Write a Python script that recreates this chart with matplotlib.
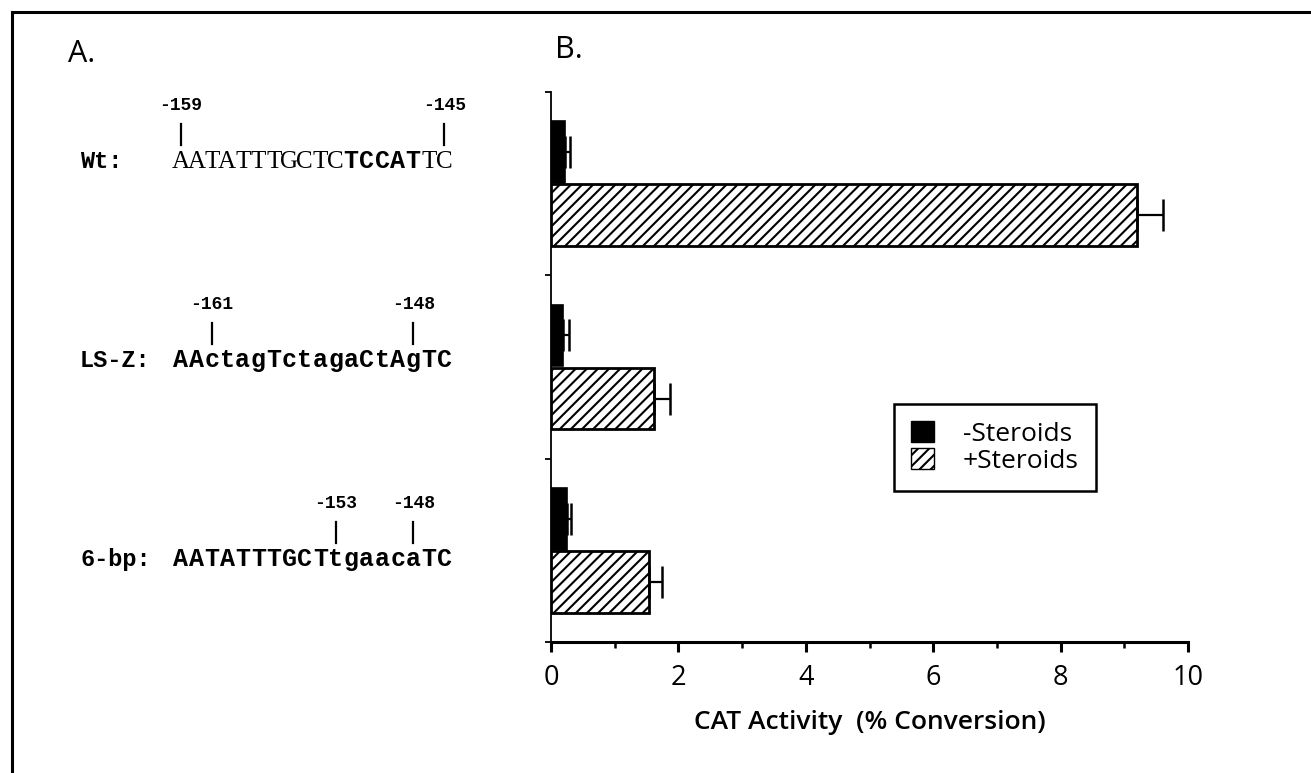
import matplotlib.pyplot as plt
from matplotlib.lines import Line2D
from matplotlib.patches import Patch
import numpy as np

# constructs, top to bottom
constructs = ["Wt", "LS-Z", "6-bp"]
minus_steroids = [0.22, 0.19, 0.25]
minus_err = [0.08, 0.09, 0.07]
plus_steroids = [9.2, 1.62, 1.54]
plus_err = [0.41, 0.25, 0.2]

labels_left = ["Wt:", "LS-Z:", "6-bp:"]
seq_wt = [("AATATTTGCTC", "serif"), ("TCCAT", "bold"), ("TC", "serif")]
seq_lsz = "AActagTctagaCtAgTC"
seq_6bp = "AATATTTGCTtgaacaTC"
# position markers: (label, index of base in sequence)
marks_wt = [("-159", 0), ("-145", 17)]
marks_lsz = [("-161", 2), ("-148", 15)]
marks_6bp = [("-153", 10), ("-148", 15)]

W, H = 1311, 773
plt.rcParams["hatch.linewidth"] = 1.5
fig = plt.figure(figsize=(W / 100, H / 100), dpi=100)

def fx(px):
    return px / W

def fy(py):
    return 1 - py / H

# frame around the figure
fig.add_artist(Line2D([fx(12), fx(1310)], [fy(12), fy(12)], color="black", lw=2.2))
fig.add_artist(Line2D([fx(12), fx(12)], [fy(12), fy(773)], color="black", lw=2.2))

sans = "Open Sans"
mono = "Liberation Mono"
serif = "Liberation Serif"

fig.text(fx(68), fy(62), "A.", fontsize=22, family=sans, va="baseline")
fig.text(fx(555), fy(58), "B.", fontsize=22, family=sans, va="baseline")

# ---- panel A: sequences ----
char_w = 15.5
seq_x0 = 173
rows_y = [168, 367, 566]
sequences = [None, seq_lsz, seq_6bp]
marks = [marks_wt, marks_lsz, marks_6bp]
for i, lab in enumerate(labels_left):
    y = rows_y[i]
    fig.text(fx(80), fy(y), lab, fontsize=17, family=mono, weight="bold", va="baseline")
    if i == 0:
        k = 0
        for part, style in seq_wt:
            for ch in part:
                cx = seq_x0 + (k + 0.5) * char_w
                if style == "serif":
                    fig.text(fx(cx), fy(y), ch, fontsize=18, family=serif, ha="center", va="baseline")
                else:
                    fig.text(fx(cx), fy(y), ch, fontsize=18, family=mono, weight="bold", ha="center", va="baseline")
                k += 1
    else:
        for k, ch in enumerate(sequences[i]):
            cx = seq_x0 + (k + 0.5) * char_w
            fig.text(fx(cx), fy(y), ch, fontsize=18, family=mono, weight="bold", ha="center", va="baseline")
    for lab_m, idx in marks[i]:
        cx = seq_x0 + (idx + 0.5) * char_w
        fig.add_artist(Line2D([fx(cx), fx(cx)], [fy(y - 44), fy(y - 23)], color="black", lw=1.6))
        fig.text(fx(cx), fy(y - 58), lab_m, fontsize=13, family=mono, weight="bold", ha="center", va="baseline")

# ---- panel B: bar chart ----
ax_l, ax_r, ax_t, ax_b = 551, 1188, 92, 642
ax = fig.add_axes([fx(ax_l), fy(ax_b), fx(ax_r) - fx(ax_l), fy(ax_t) - fy(ax_b)])
centers = np.array([2.5, 1.5, 0.5])
h = 0.335
off = 0.172
ax.barh(centers + off, minus_steroids, height=h, color="black", edgecolor="black", lw=1.2,
        label="-Steroids")
ax.barh(centers - off, plus_steroids, height=h, color="white", edgecolor="black", lw=2,
        hatch="///", label="+Steroids")
ax.errorbar(minus_steroids, centers + off, xerr=[np.zeros(3), minus_err], fmt="none",
            ecolor="black", elinewidth=1.6, capsize=11.5, capthick=1.8)
ax.errorbar(plus_steroids, centers - off, xerr=[np.zeros(3), plus_err], fmt="none",
            ecolor="black", elinewidth=1.6, capsize=11.5, capthick=1.8)

ax.set_xlim(0, 10)
ax.set_ylim(0, 3)
ax.spines["top"].set_visible(False)
ax.spines["right"].set_visible(False)
ax.spines["left"].set_linewidth(1.3)
ax.spines["bottom"].set_linewidth(2.2)
ax.set_xticks([0, 2, 4, 6, 8, 10])
ax.set_xticks([1, 3, 5, 7, 9], minor=True)
ax.set_yticks([0, 1, 2, 3])
ax.set_yticklabels([])
ax.tick_params(axis="x", which="major", length=7, width=2.2, labelsize=19.5, pad=9)
ax.tick_params(axis="x", which="minor", length=4, width=1.8)
ax.tick_params(axis="y", length=4, width=1.3)
for t in ax.get_xticklabels():
    t.set_family(sans)
ax.set_xlabel("CAT Activity  (% Conversion)", fontsize=19, family=sans, weight="semibold",
              labelpad=13)

handles = [Patch(facecolor="black", edgecolor="black"),
           Patch(facecolor="white", edgecolor="black", hatch="///")]
leg = ax.legend(handles, ["-Steroids", "+Steroids"], loc="upper left",
                bbox_to_anchor=((894 - ax_l) / (ax_r - ax_l), 1 - (404 - ax_t) / (ax_b - ax_t)),
                prop={"family": sans, "size": 19}, fancybox=False, frameon=True,
                edgecolor="black", handlelength=0.85, handleheight=0.85, handletextpad=1.1,
                labelspacing=0.05, borderpad=0.65, borderaxespad=0, framealpha=1)
leg.get_frame().set_linewidth(1.8)

fig.savefig("out.png", dpi=100, facecolor="white")
